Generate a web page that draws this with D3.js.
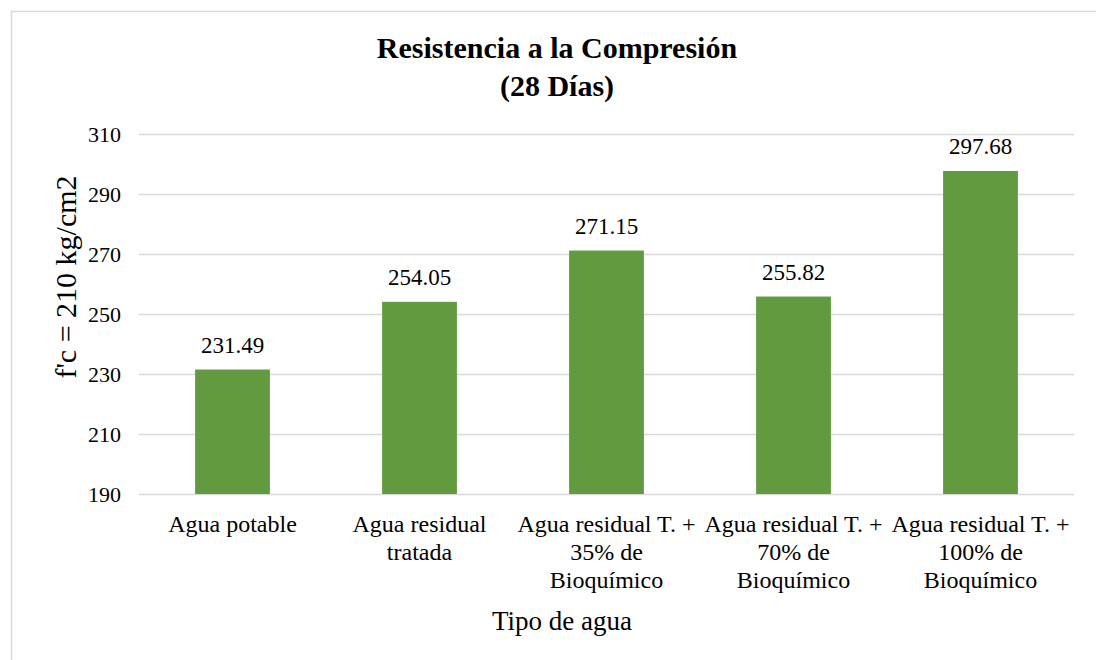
<!DOCTYPE html>
<html>
<head>
<meta charset="utf-8">
<script src="https://cdn.jsdelivr.net/npm/d3@7"></script>
<style>
  body { margin: 0; background: #fff; }
  svg text { font-family: "Liberation Serif", "Times New Roman", "DejaVu Serif", serif; fill: #000; }
</style>
</head>
<body>
<script>
// chart data
var categories = [
  ["Agua potable"],
  ["Agua residual", "tratada"],
  ["Agua residual T. +", "35% de", "Bioquímico"],
  ["Agua residual T. +", "70% de", "Bioquímico"],
  ["Agua residual T. +", "100% de", "Bioquímico"]
];
var values = [231.49, 254.05, 271.15, 255.82, 297.68];
var yTicks = [190, 210, 230, 250, 270, 290, 310];
var titleLines = ["Resistencia a la Compresión", "(28 Días)"];

var width = 1096, height = 660;
var margin = { top: 134, right: 22, bottom: 166, left: 139 };
var plotWidth = width - margin.left - margin.right;
var plotHeight = height - margin.top - margin.bottom;

var svg = d3.select("body").append("svg")
  .attr("width", width)
  .attr("height", height);

// chart frame
svg.append("rect")
  .attr("x", 11.5).attr("y", 11.5)
  .attr("width", width).attr("height", height)
  .attr("fill", "none")
  .attr("stroke", "#d9d9d9")
  .attr("stroke-width", 1.5);

var xScale = d3.scaleBand()
  .domain(d3.range(categories.length))
  .range([0, plotWidth])
  .paddingInner(0.6)
  .paddingOuter(0.3);

var yScale = d3.scaleLinear().domain([190, 310]).range([plotHeight, 0]);

var g = svg.append("g")
  .attr("transform", "translate(" + margin.left + "," + margin.top + ")");

// gridlines
g.selectAll(".grid").data(yTicks).enter().append("line")
  .attr("x1", 0).attr("x2", plotWidth)
  .attr("y1", function(d) { return yScale(d) + 0.5; })
  .attr("y2", function(d) { return yScale(d) + 0.5; })
  .attr("stroke", "#d9d9d9")
  .attr("stroke-width", 1.5);

// y tick labels
g.selectAll(".ytick").data(yTicks).enter().append("text")
  .attr("x", -18)
  .attr("y", function(d) { return yScale(d); })
  .attr("dy", "0.35em")
  .attr("text-anchor", "end")
  .style("font-size", "22px")
  .text(function(d) { return d; });

// bars
g.selectAll(".bar").data(values).enter().append("rect")
  .attr("x", function(d, i) { return xScale(i); })
  .attr("y", function(d) { return yScale(d); })
  .attr("width", xScale.bandwidth())
  .attr("height", function(d) { return yScale(190) - yScale(d); })
  .attr("fill", "#629a3f");

// value labels
g.selectAll(".val").data(values).enter().append("text")
  .attr("x", function(d, i) { return xScale(i) + xScale.bandwidth() / 2; })
  .attr("y", function(d) { return yScale(d) - 17; })
  .attr("text-anchor", "middle")
  .style("font-size", "23px")
  .text(function(d) { return d.toFixed(2); });

// category labels
categories.forEach(function(lines, i) {
  var cx = xScale(i) + xScale.bandwidth() / 2;
  var t = g.append("text")
    .attr("text-anchor", "middle")
    .attr("x", cx)
    .attr("y", plotHeight + 38)
    .style("font-size", "24px");
  lines.forEach(function(l, j) {
    t.append("tspan")
      .attr("x", cx)
      .attr("dy", j === 0 ? 0 : 28)
      .text(l);
  });
});

// title
var title = svg.append("text")
  .attr("text-anchor", "middle")
  .style("font-size", "30px")
  .style("font-weight", "bold");
titleLines.forEach(function(l, j) {
  title.append("tspan").attr("x", 557).attr("y", 58 + j * 38).text(l);
});

// axis titles
svg.append("text")
  .attr("x", 562)
  .attr("y", 630)
  .attr("text-anchor", "middle")
  .style("font-size", "27px")
  .text("Tipo de agua");

svg.append("text")
  .attr("transform", "translate(" + 76 + "," + 277 + ") rotate(-90)")
  .attr("text-anchor", "middle")
  .style("font-size", "30px")
  .text("f'c = 210 kg/cm2");
</script>
</body>
</html>
